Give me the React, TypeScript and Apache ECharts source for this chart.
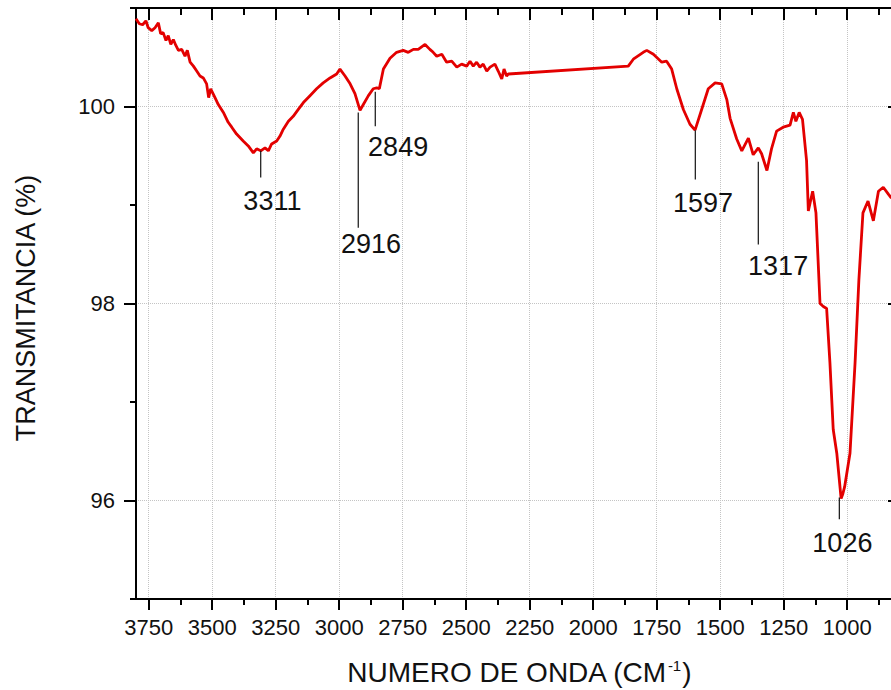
import React, { useEffect, useRef } from 'react';
import * as echarts from 'echarts';

// Spectrum (wavenumber cm-1, transmittance %)
const WAVENUMBER = [
  3800, 3787, 3774, 3761, 3752, 3738, 3725, 3712, 3703, 3693, 3682, 3673, 3663, 3653, 3643, 3633,
  3620, 3607, 3598, 3587, 3574, 3561, 3548, 3535, 3522, 3514, 3506, 3489, 3476, 3456, 3437, 3423,
  3404, 3378, 3358, 3338, 3325, 3309, 3292, 3279, 3266, 3246, 3233, 3220, 3200, 3181, 3161, 3141,
  3115, 3089, 3063, 3036, 3010, 2997, 2977, 2957, 2938, 2918, 2905, 2885, 2866, 2852, 2842, 2826,
  2800, 2774, 2748, 2728, 2708, 2689, 2662, 2643, 2630, 2616, 2596, 2577, 2557, 2537, 2518, 2498,
  2485, 2472, 2459, 2446, 2433, 2419, 2406, 2387, 2374, 2360, 2351, 2341, 2334, 1862, 1842,
  1803, 1789, 1763, 1730, 1711, 1691, 1671, 1645, 1619, 1599, 1573, 1547, 1520, 1494, 1474, 1461,
  1435, 1415, 1389, 1370, 1350, 1337, 1316, 1298, 1278, 1252, 1225, 1212, 1202, 1189, 1176, 1160,
  1153, 1136, 1123, 1107, 1094, 1081, 1068, 1055, 1041, 1024, 1018, 1010, 989, 969, 954, 938,
  918, 897, 877, 858, 838, 826,
];
const TRANSMITTANCE = [
  100.89, 100.84, 100.83, 100.87, 100.80, 100.77, 100.80, 100.85, 100.74, 100.75, 100.67, 100.72, 100.63, 100.68, 100.62, 100.57,
  100.58, 100.51, 100.57, 100.45, 100.41, 100.36, 100.31, 100.29, 100.23, 100.09, 100.18, 100.09, 100.02, 99.94, 99.84, 99.79,
  99.72, 99.65, 99.60, 99.53, 99.57, 99.55, 99.58, 99.55, 99.62, 99.65, 99.70, 99.77, 99.85, 99.90, 99.97, 100.04,
  100.11, 100.18, 100.24, 100.29, 100.33, 100.38, 100.31, 100.23, 100.13, 99.96, 100.02, 100.11, 100.18, 100.19, 100.18, 100.38,
  100.49, 100.55, 100.57, 100.55, 100.58, 100.58, 100.63, 100.58, 100.55, 100.51, 100.53, 100.45, 100.46, 100.40, 100.43, 100.41,
  100.46, 100.41, 100.45, 100.40, 100.43, 100.36, 100.40, 100.43, 100.36, 100.28, 100.38, 100.31, 100.33, 100.41, 100.48,
  100.55, 100.57, 100.53, 100.45, 100.46, 100.38, 100.18, 99.97, 99.82, 99.76, 99.97, 100.18, 100.24, 100.23, 100.07, 99.88,
  99.67, 99.55, 99.68, 99.51, 99.58, 99.52, 99.35, 99.57, 99.75, 99.79, 99.81, 99.94, 99.85, 99.94, 99.87, 99.45,
  98.94, 99.14, 98.92, 98.00, 97.97, 97.95, 97.40, 96.72, 96.48, 96.02, 96.06, 96.14, 96.48, 97.40, 98.24, 98.92,
  99.04, 98.84, 99.14, 99.18, 99.11, 99.07,
];

// Peak annotations
const PEAK_LABELS = ['3311', '2916', '2849', '1597', '1317', '1026'];
const PEAK_LINE_X = [3309, 2925, 2858, 1598, 1350, 1031];
const PEAK_LINE_TOP = [99.55, 99.94, 100.15, 99.76, 99.44, 96.03];
const PEAK_LINE_BOTTOM = [99.28, 98.77, 99.80, 99.26, 98.60, 95.81];
const PEAK_LABEL_X = [3263, 2875, 2768, 1568, 1272, 1019];
const PEAK_LABEL_Y = [99.04, 98.6, 99.59, 99.02, 98.38, 95.57];

// Axis ticks
const X_MIN = 800;
const X_MAX = 3800;
const X_MAJOR = [1000, 1250, 1500, 1750, 2000, 2250, 2500, 2750, 3000, 3250, 3500, 3750];
const X_MINOR = [875, 1125, 1375, 1625, 1875, 2125, 2375, 2625, 2875, 3125, 3375, 3625];
const Y_MIN = 95;
const Y_MAX = 101;
const Y_MAJOR = [96, 98, 100];
const Y_MINOR = [95, 97, 99, 101];

const X_TITLE = 'NUMERO DE ONDA (CM{sup|-1})';
const Y_TITLE = 'TRANSMITANCIA (%)';

const FONT = '"Liberation Sans", Arial, Helvetica, sans-serif';
const BLACK = '#000';

function xAxisDef(position: 'top' | 'bottom', ticks: number[], len: number, inside: boolean, labels: boolean, split: boolean) {
  return {
    type: 'value',
    position,
    min: X_MIN,
    max: X_MAX,
    inverse: true,
    axisLine: { show: true, onZero: false, lineStyle: { color: BLACK, width: 2 } },
    axisTick: { show: true, inside, length: len, customValues: ticks, lineStyle: { color: BLACK, width: 2 } },
    axisLabel: {
      show: labels,
      customValues: ticks,
      formatter: (v: number) => String(v),
      color: '#111',
      fontSize: 22,
      fontFamily: FONT,
      margin: 17,
      hideOverlap: false,
    },
    splitLine: { show: split, lineStyle: { type: 'dotted', color: '#c4c4c4', width: 1 } },
    minorTick: { show: false },
  };
}

function yAxisDef(position: 'left' | 'right', ticks: number[], len: number, inside: boolean, labels: boolean, split: boolean) {
  return {
    type: 'value',
    position,
    min: Y_MIN,
    max: Y_MAX,
    axisLine: { show: true, onZero: false, lineStyle: { color: BLACK, width: 2 } },
    axisTick: { show: true, inside, length: len, customValues: ticks, lineStyle: { color: BLACK, width: 2 } },
    axisLabel: {
      show: labels,
      customValues: ticks,
      formatter: (v: number) => String(v),
      color: '#111',
      fontSize: 22,
      fontFamily: FONT,
      margin: 21,
    },
    splitLine: { show: split, lineStyle: { type: 'dotted', color: '#c4c4c4', width: 1 } },
    minorTick: { show: false },
  };
}

export default function App() {
  const ref = useRef<HTMLDivElement>(null);

  useEffect(() => {
    if (!ref.current) return;
    const chart = echarts.init(ref.current, null, { renderer: 'svg' });

    const spectrum = WAVENUMBER.map((w, i) => [w, TRANSMITTANCE[i]]);
    const peaks = PEAK_LABELS.map((_, i) => [
      PEAK_LINE_X[i],
      PEAK_LINE_TOP[i],
      PEAK_LINE_BOTTOM[i],
      PEAK_LABEL_X[i],
      PEAK_LABEL_Y[i],
    ]);

    chart.setOption({
      animation: false,
      backgroundColor: '#fff',
      grid: { left: 136, top: 8, width: 762, height: 591, containLabel: false, outerBoundsMode: 'none' },
      xAxis: [
        xAxisDef('bottom', X_MAJOR, 11, false, true, true),
        xAxisDef('bottom', X_MINOR, 6, false, false, false),
        xAxisDef('top', X_MAJOR, 12, true, false, false),
        xAxisDef('top', X_MINOR, 7, true, false, false),
      ],
      yAxis: [
        yAxisDef('left', Y_MINOR, 6, false, false, false),
        yAxisDef('left', Y_MAJOR, 12, false, true, true),
        yAxisDef('right', Y_MAJOR, 10, true, false, false),
        yAxisDef('right', Y_MINOR, 5, true, false, false),
      ],
      series: [
        {
          type: 'line',
          xAxisIndex: 0,
          yAxisIndex: 0,
          data: spectrum,
          showSymbol: false,
          symbol: 'none',
          smooth: false,
          lineStyle: { color: '#e30000', width: 2.8 },
          z: 5,
        },
        {
          type: 'custom',
          xAxisIndex: 0,
          yAxisIndex: 0,
          data: peaks,
          z: 6,
          renderItem: (params: any, api: any) => {
            const p1 = api.coord([api.value(0), api.value(1)]);
            const p2 = api.coord([api.value(0), api.value(2)]);
            const pl = api.coord([api.value(3), api.value(4)]);
            return {
              type: 'group',
              children: [
                {
                  type: 'line',
                  shape: { x1: p1[0], y1: p1[1], x2: p2[0], y2: p2[1] },
                  style: { stroke: '#111', lineWidth: 1.2 },
                },
                {
                  type: 'text',
                  x: pl[0],
                  y: pl[1],
                  style: {
                    text: PEAK_LABELS[params.dataIndex],
                    fill: '#111',
                    fontSize: 27,
                    fontFamily: FONT,
                    align: 'center',
                    verticalAlign: 'middle',
                  },
                },
              ],
            };
          },
        },
      ],
      graphic: [
        {
          type: 'text',
          x: 519,
          y: 672,
          style: {
            text: X_TITLE,
            fill: '#111',
            fontSize: 28,
            fontFamily: FONT,
            align: 'center',
            verticalAlign: 'middle',
            rich: {
              sup: { fontSize: 15, fontFamily: FONT, fill: '#111', verticalAlign: 'top', padding: [0, 1, 12, 1] },
            },
          },
        },
        {
          type: 'text',
          x: 26,
          y: 308,
          rotation: Math.PI / 2,
          style: {
            text: Y_TITLE,
            fill: '#111',
            fontSize: 27,
            fontFamily: FONT,
            align: 'center',
            verticalAlign: 'middle',
          },
        },
      ],
    });

    return () => chart.dispose();
  }, []);

  return (
    <div
      style={{
        position: 'absolute',
        left: 0,
        top: 0,
        width: 891,
        height: 690,
        overflow: 'hidden',
        background: '#fff',
      }}
    >
      <div ref={ref} style={{ width: 910, height: 690 }} />
    </div>
  );
}
